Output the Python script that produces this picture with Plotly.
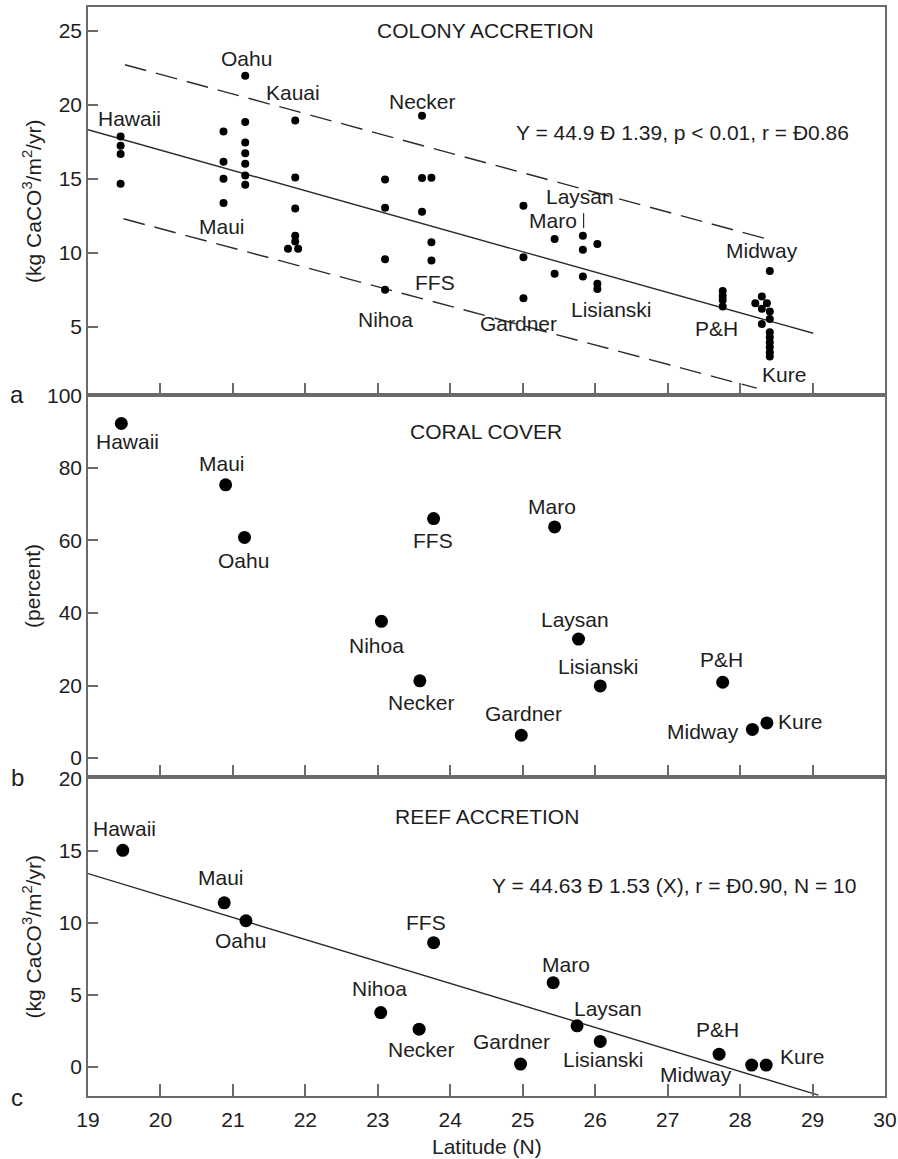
import plotly.graph_objects as go
from plotly.subplots import make_subplots

# ---------------- data ----------------
# (a) colony accretion, individual colonies
colony_lat = [19.45, 19.45, 19.45, 19.45,
              20.87, 20.87, 20.87, 20.87,
              21.17, 21.17, 21.17, 21.17, 21.17, 21.17, 21.17,
              21.86, 21.86, 21.86, 21.86, 21.86, 21.76, 21.90,
              23.10, 23.10, 23.10, 23.10,
              23.61, 23.61, 23.61,
              23.74, 23.74, 23.74,
              25.01, 25.01, 25.01,
              25.44, 25.44,
              25.83, 25.83, 25.83,
              26.03, 26.03, 26.03,
              27.76, 27.76, 27.76, 27.76,
              28.41, 28.30, 28.21, 28.37, 28.30, 28.30,
              28.41, 28.41, 28.41, 28.41, 28.41, 28.41, 28.41, 28.41]
colony_rate = [17.86, 17.23, 16.67, 14.66,
               18.20, 16.15, 15.00, 13.36,
               21.96, 18.83, 17.45, 16.73, 16.01, 15.22, 14.59,
               18.94, 15.09, 13.00, 11.15, 10.76, 10.27, 10.27,
               14.95, 13.04, 9.57, 7.50,
               19.26, 15.05, 12.77,
               15.07, 10.72, 9.48,
               13.18, 9.71, 6.94,
               10.93, 8.58,
               11.15, 10.20, 8.40,
               10.59, 7.91, 7.55,
               7.43, 7.11, 6.82, 6.37,
               8.78, 7.05, 6.60, 6.60, 6.22, 5.20,
               6.03, 5.54, 4.64, 4.30, 3.97, 3.63, 3.29, 3.00]
colony_fit_x = [19.0, 29.01]
colony_fit_y = [18.31, 4.57]
colony_upper_x = [19.51, 28.41]
colony_upper_y = [22.70, 10.88]
colony_lower_x = [19.49, 28.23]
colony_lower_y = [12.30, 0.86]

colony_label_names = ["Hawaii", "Oahu", "Kauai", "Necker", "Maui", "FFS", "Nihoa",
                      "Gardner", "Maro", "Laysan", "Lisianski", "P&H", "Midway", "Kure"]
colony_label_x = [19.57, 21.19, 21.83, 23.62, 20.85, 23.79, 23.11,
                  24.94, 25.42, 25.79, 26.23, 27.68, 28.30, 28.60]
colony_label_y = [19.1, 23.1, 20.8, 20.2, 11.8, 8.0, 5.47,
                  5.26, 12.2, 13.8, 6.2, 4.9, 10.15, 1.76]
laysan_leader_x = [25.84, 25.84]
laysan_leader_y = [12.68, 11.67]

# (b) coral cover and (c) reef accretion, per island
islands = ["Hawaii", "Maui", "Oahu", "Nihoa", "Necker", "FFS", "Gardner",
           "Maro", "Laysan", "Lisianski", "P&H", "Midway", "Kure"]
cover_lat = [19.46, 20.90, 21.16, 23.05, 23.58, 23.77, 24.98,
             25.44, 25.77, 26.07, 27.76, 28.17, 28.37]
cover_pct = [92.2, 75.3, 60.8, 37.7, 21.3, 66.0, 6.3,
             63.7, 32.8, 19.9, 20.9, 7.9, 9.7]
cover_label_x = [19.55, 20.85, 21.14, 22.98, 23.60, 23.76, 25.01,
                 25.41, 25.72, 26.05, 27.75, 27.49, 28.83]
cover_label_y = [87.3, 81.3, 54.5, 31.1, 15.2, 60.0, 12.3,
                 69.2, 38.2, 25.2, 27.2, 7.2, 10.0]

reef_lat = [19.48, 20.88, 21.18, 23.04, 23.57, 23.77, 24.97,
            25.42, 25.75, 26.07, 27.71, 28.16, 28.36]
reef_rate = [15.02, 11.38, 10.14, 3.78, 2.63, 8.62, 0.21,
             5.85, 2.86, 1.78, 0.90, 0.14, 0.14]
reef_label_x = [19.50, 20.83, 21.10, 23.03, 23.60, 23.67, 24.84,
                25.60, 26.18, 26.12, 27.69, 27.39, 28.86]
reef_label_y = [16.56, 13.15, 8.8, 5.44, 1.2, 10.04, 1.78,
                7.12, 4.06, 0.55, 2.63, -0.48, 0.74]
reef_fit_x = [19.0, 29.08]
reef_fit_y = [13.41, -1.94]

x_ticks = list(range(19, 31))

# ---------------- styling ----------------
FONT = "Liberation Sans, Arial, Helvetica, sans-serif"
TXT = "#1e1e1e"
AXC = "#6a6a6a"
FS = 21

fig = make_subplots(rows=3, cols=1, vertical_spacing=0,
                    row_heights=[388, 382, 319])

# (a)
fig.add_trace(go.Scatter(x=colony_fit_x, y=colony_fit_y, mode="lines",
                         line=dict(color="#2b2b2b", width=1.4)), row=1, col=1)
fig.add_trace(go.Scatter(x=colony_upper_x, y=colony_upper_y, mode="lines",
                         line=dict(color="#2b2b2b", width=1.4, dash="22px,10px")), row=1, col=1)
fig.add_trace(go.Scatter(x=colony_lower_x, y=colony_lower_y, mode="lines",
                         line=dict(color="#2b2b2b", width=1.4, dash="22px,10px")), row=1, col=1)
fig.add_trace(go.Scatter(x=laysan_leader_x, y=laysan_leader_y, mode="lines",
                         line=dict(color="#2b2b2b", width=1.2)), row=1, col=1)
fig.add_trace(go.Scatter(x=colony_lat, y=colony_rate, mode="markers",
                         marker=dict(color="black", size=8)), row=1, col=1)

# (b)
fig.add_trace(go.Scatter(x=cover_lat, y=cover_pct, mode="markers",
                         marker=dict(color="black", size=13)), row=2, col=1)

# (c)
fig.add_trace(go.Scatter(x=reef_fit_x, y=reef_fit_y, mode="lines",
                         line=dict(color="#2b2b2b", width=1.4)), row=3, col=1)
fig.add_trace(go.Scatter(x=reef_lat, y=reef_rate, mode="markers",
                         marker=dict(color="black", size=13)), row=3, col=1)

axis_common = dict(showline=True, linecolor=AXC, linewidth=1.6, mirror=True,
                   ticks="inside", tickcolor=AXC, tickwidth=1.5,
                   showgrid=False, zeroline=False, automargin=False,
                   tickfont=dict(family=FONT, size=FS, color=TXT))

for r in (1, 2, 3):
    fig.update_xaxes(range=[19, 30], tickvals=x_ticks, ticklen=12,
                     showticklabels=(r == 3), row=r, col=1, **axis_common)
fig.update_xaxes(ticklabelstandoff=4, row=3, col=1)

fig.update_yaxes(range=[0.4, 26.6], tickvals=[5, 10, 15, 20, 25], ticklen=10,
                 row=1, col=1, **axis_common)
fig.update_yaxes(range=[-5.2, 100.05], tickvals=[0, 20, 40, 60, 80, 100], ticklen=10,
                 row=2, col=1, **axis_common)
fig.update_yaxes(range=[-2, 20.1], tickvals=[0, 5, 10, 15, 20], ticklen=10,
                 row=3, col=1, **axis_common)

ann = []
def label(text, x, y, xref, yref, size=FS, **kw):
    ann.append(dict(text=text, x=x, y=y, xref=xref, yref=yref, showarrow=False,
                    xanchor=kw.pop("xanchor", "center"), yanchor=kw.pop("yanchor", "middle"),
                    font=dict(family=FONT, size=size, color=TXT), **kw))

for n, x, y in zip(colony_label_names, colony_label_x, colony_label_y):
    label(n, x, y, "x", "y")
label("COLONY ACCRETION", 24.49, 25.0, "x", "y")
label("Y = 44.9 Đ 1.39, p < 0.01, r = Đ0.86", 27.2, 18.1, "x", "y")

for n, x, y in zip(islands, cover_label_x, cover_label_y):
    label(n, x, y, "x2", "y2")
label("CORAL COVER", 24.49, 89.9, "x2", "y2")

for n, x, y in zip(islands, reef_label_x, reef_label_y):
    label(n, x, y, "x3", "y3")
label("REEF ACCRETION", 24.5, 17.37, "x3", "y3")
label("Y = 44.63 Đ 1.53 (X), r = Đ0.90, N = 10", 27.09, 12.58, "x3", "y3")

# axis titles
ytitle = "(kg CaCO<sup>3</sup>/m<sup>2</sup>/yr)"
label(ytitle, -0.0703, 0.5, "paper", "y domain", textangle=-90)
label("(percent)", -0.0703, 0.5, "paper", "y2 domain", textangle=-90)
label(ytitle, -0.0703, 0.5, "paper", "y3 domain", textangle=-90)
label("Latitude (N)", 0.5, -0.0466, "paper", "paper")

# panel letters
label("a", -0.089, 0.0, "paper", "y domain", size=24)
label("b", -0.089, 0.0, "paper", "y2 domain", size=24)
label("c", -0.089, -0.005, "paper", "y3 domain", size=24)

fig.update_layout(
    width=898, height=1159,
    margin=dict(l=88, r=13, t=7, b=63),
    paper_bgcolor="white", plot_bgcolor="white",
    showlegend=False,
    annotations=ann,
    font=dict(family=FONT, size=FS, color=TXT),
)

fig.write_html("out.html")
